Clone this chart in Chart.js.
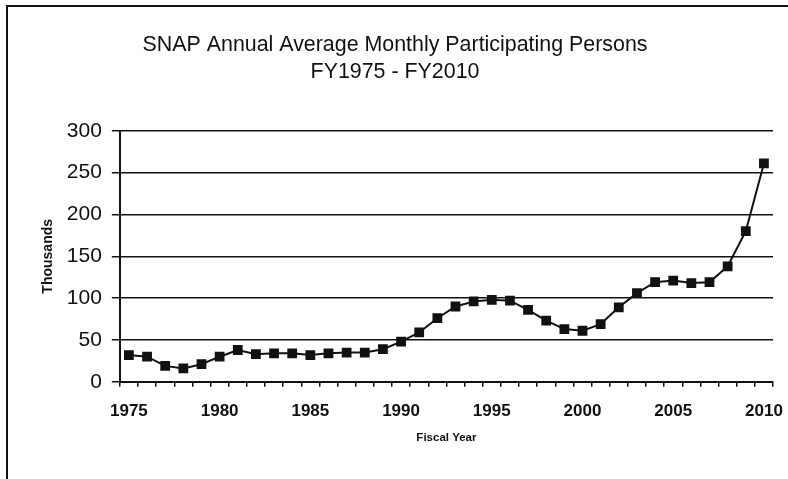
<!DOCTYPE html>
<html>
<head>
<meta charset="utf-8">
<script src="https://cdn.jsdelivr.net/npm/chart.js@4"></script>
<style>
  html, body { margin: 0; padding: 0; background: #fff; }
  #wrap { position: relative; width: 788px; height: 479px; }
  #frame { position: absolute; left: 6px; top: 5px; width: 790px; height: 480px;
           border-left: 2px solid #111; border-top: 2px solid #111; pointer-events: none; }
  canvas { position: absolute; left: 0; top: 0; }
</style>
</head>
<body>
<div id="wrap">
  <canvas id="chartSnap" width="788" height="479"></canvas>
  <div id="frame"></div>
</div>
<script>
// SNAP participation, thousands of persons
var years = ["1975","1976","1977","1978","1979","1980","1981","1982","1983","1984",
             "1985","1986","1987","1988","1989","1990","1991","1992","1993","1994",
             "1995","1996","1997","1998","1999","2000","2001","2002","2003","2004",
             "2005","2006","2007","2008","2009","2010"];
var persons = [32, 30, 19, 16, 21, 30, 38, 33, 34, 34,
               32, 34, 35, 35, 39, 48, 59, 76, 90, 96,
               98, 97, 86, 73, 63, 61, 69, 89, 106, 119,
               121, 118, 119, 138, 180, 261];
var yTicks = [0, 50, 100, 150, 200, 250, 300];

new Chart(document.getElementById("chartSnap"), {
  type: "line",
  data: {
    labels: years,
    datasets: [
      {
        label: "Persons",
        data: persons,
        borderColor: "#111",
        backgroundColor: "#111",
        borderWidth: 2,
        pointStyle: "rect",
        pointRadius: 5.5,
        pointHoverRadius: 5.5,
        tension: 0,
      },
    ],
  },
  options: {
    responsive: false,
    animation: false,
    layout: { padding: { left: 2, right: 0, top: 0, bottom: 34 } },
    plugins: {
      legend: { display: false },
      tooltip: { enabled: false },
      title: {
        display: true,
        text: ["SNAP Annual Average Monthly Participating Persons", "FY1975 - FY2010"],
        color: "#111",
        font: { family: "Liberation Sans, Arial", size: 21.4, weight: "normal", lineHeight: 1.28 },
        padding: { top: 31, bottom: 45 },
      },
    },
    scales: {
      x: {
        type: "category",
        offset: true,
        afterFit: function (s) { s.paddingRight = 15; },
        border: { color: "#111", width: 2 },
        grid: { offset: true, drawOnChartArea: false, color: "#111", lineWidth: 1.5, tickLength: 5 },
        ticks: {
          autoSkip: false,
          maxRotation: 0,
          color: "#111",
          padding: 14,
          font: { family: "Liberation Sans, Arial", size: 17, weight: "bold" },
          callback: function (v, i) {
            var y = years[i];
            return Number(y) % 5 === 0 ? y : "";
          },
        },
        title: {
          display: true,
          text: "Fiscal Year",
          color: "#111",
          font: { family: "Liberation Sans, Arial", size: 11.5, weight: "bold" },
          padding: { top: -4, bottom: 0 },
        },
      },
      y: {
        min: 0,
        max: 300,
        afterBuildTicks: function (s) { s.ticks = yTicks.map(function (v) { return { value: v }; }); },
        border: { color: "#111", width: 2 },
        grid: { color: "#111", lineWidth: 1.5, tickLength: 8 },
        ticks: {
          color: "#111",
          padding: 10,
          font: { family: "Liberation Sans, Arial", size: 21 },
        },
        title: {
          display: true,
          text: "Thousands",
          color: "#111",
          font: { family: "Liberation Sans, Arial", size: 14, weight: "bold" },
          padding: { top: 38, bottom: 0 },
        },
      },
    },
  },
});
</script>
</body>
</html>
